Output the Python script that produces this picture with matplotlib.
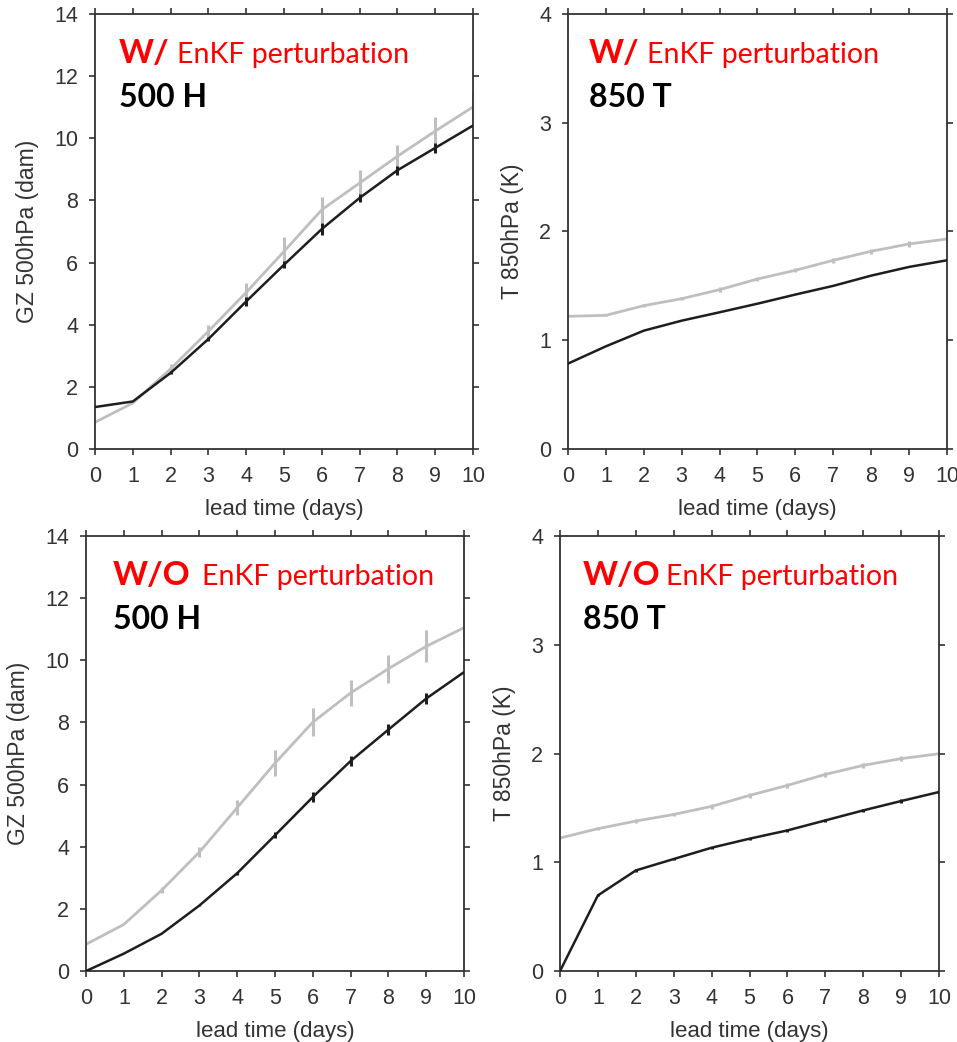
import matplotlib
matplotlib.use("Agg")
import matplotlib.pyplot as plt

days = list(range(11))

# top-left: 500 hPa height, with EnKF perturbation
gz_w_black = [1.35, 1.53, 2.45, 3.54, 4.75, 5.93, 7.08, 8.08, 8.97, 9.69, 10.41]
gz_w_black_err = [0, 0, 0.05, 0.08, 0.15, 0.12, 0.2, 0.13, 0.15, 0.15, 0]
gz_w_gray = [0.86, 1.48, 2.58, 3.79, 5.04, 6.36, 7.70, 8.56, 9.42, 10.23, 11.01]
gz_w_gray_err = [0, 0, 0.15, 0.2, 0.3, 0.45, 0.42, 0.43, 0.36, 0.45, 0.5]

# top-right: 850 hPa temperature, with EnKF perturbation
t_w_black = [0.785, 0.944, 1.088, 1.18, 1.257, 1.336, 1.42, 1.50, 1.594, 1.674, 1.735]
t_w_gray = [1.22, 1.229, 1.318, 1.382, 1.465, 1.563, 1.643, 1.735, 1.818, 1.885, 1.931]
t_w_gray_err = [0, 0.01, 0.015, 0.015, 0.02, 0.02, 0.02, 0.025, 0.025, 0.025, 0.02]

# bottom-left: 500 hPa height, without EnKF perturbation
gz_wo_black = [0.0, 0.56, 1.20, 2.11, 3.15, 4.37, 5.60, 6.76, 7.77, 8.77, 9.62]
gz_wo_black_err = [0, 0, 0, 0.03, 0.05, 0.1, 0.15, 0.15, 0.18, 0.18, 0]
gz_wo_gray = [0.86, 1.50, 2.60, 3.83, 5.26, 6.69, 8.01, 8.95, 9.73, 10.45, 11.05]
gz_wo_gray_err = [0, 0, 0.1, 0.15, 0.25, 0.42, 0.45, 0.43, 0.45, 0.52, 0.6]

# bottom-right: 850 hPa temperature, without EnKF perturbation
t_wo_black = [0.0, 0.696, 0.925, 1.03, 1.134, 1.217, 1.293, 1.385, 1.477, 1.563, 1.646]
t_wo_black_err = [0, 0.01, 0.01, 0.01, 0.01, 0.01, 0.01, 0.015, 0.015, 0.015, 0.02]
t_wo_gray = [1.223, 1.309, 1.379, 1.44, 1.514, 1.615, 1.707, 1.808, 1.891, 1.953, 1.998]
t_wo_gray_err = [0, 0.015, 0.015, 0.015, 0.02, 0.02, 0.02, 0.025, 0.025, 0.025, 0.02]

BLACK = "#1e1e1e"
GRAY = "#bfbfbf"
AXIS = "#333333"
RED = "#ff0000"
TXT_FONT = ["Lato", "DejaVu Sans"]

plt.rcParams["font.family"] = ["Liberation Sans", "DejaVu Sans"]

fig = plt.figure(figsize=(9.57, 10.42), dpi=100)

panels = [
    # rect, black, black err, gray, gray err, ymax, ylabel, flag, flag x, enkf x, var
    ([0.0993, 0.5691, 0.395, 0.4175], gz_w_black, gz_w_black_err, gz_w_gray, gz_w_gray_err,
     14, "GZ 500hPa (dam)", "W/", 0.063, 0.217, "500 H"),
    ([0.5935, 0.5691, 0.396, 0.4175], t_w_black, None, t_w_gray, t_w_gray_err,
     4, "T 850hPa (K)", "W/", 0.055, 0.208, "850 T"),
    ([0.0899, 0.0681, 0.395, 0.4175], gz_wo_black, gz_wo_black_err, gz_wo_gray, gz_wo_gray_err,
     14, "GZ 500hPa (dam)", "W/O", 0.071, 0.307, "500 H"),
    ([0.5852, 0.0681, 0.396, 0.4175], t_wo_black, t_wo_black_err, t_wo_gray, t_wo_gray_err,
     4, "T 850hPa (K)", "W/O", 0.061, 0.280, "850 T"),
]

for rect, blk, blk_err, gry, gry_err, ymax, ylabel, flag, fx, ex, var in panels:
    ax = fig.add_axes(rect)
    ax.errorbar(days, gry, yerr=gry_err, color=GRAY, lw=2.0, elinewidth=2.2, capsize=0, zorder=2)
    ax.errorbar(days, blk, yerr=blk_err, color=BLACK, lw=1.8, elinewidth=2.2, capsize=0, zorder=3)
    ax.set_xlim(0, 10)
    ax.set_ylim(0, ymax)
    ax.set_xticks(days)
    ax.set_yticks(range(0, ymax + 1, 2 if ymax > 4 else 1))
    ax.tick_params(direction="out", length=4, width=1.2, color=AXIS, labelcolor=AXIS,
                   labelsize=15.5, top=True, right=True)
    ax.tick_params(axis="x", pad=8)
    ax.tick_params(axis="y", pad=8)
    for s in ax.spines.values():
        s.set_color(AXIS)
        s.set_linewidth(1.3)
    ax.set_ylabel(ylabel, fontsize=16.5, color=AXIS, labelpad=11)
    ax.set_xlabel("lead time (days)", fontsize=16, color=AXIS, labelpad=9)

    ax.text(fx, 0.887, flag, transform=ax.transAxes, color=RED, fontsize=24,
            fontweight="bold", family=TXT_FONT, va="baseline")
    ax.text(ex, 0.887, "EnKF perturbation", transform=ax.transAxes, color=RED,
            fontsize=20.5, family=TXT_FONT, va="baseline")
    ax.text(fx, 0.786, var, transform=ax.transAxes, color="black", fontsize=23,
            fontweight="bold", family=TXT_FONT, va="baseline")

fig.savefig("out.png", dpi=100)
